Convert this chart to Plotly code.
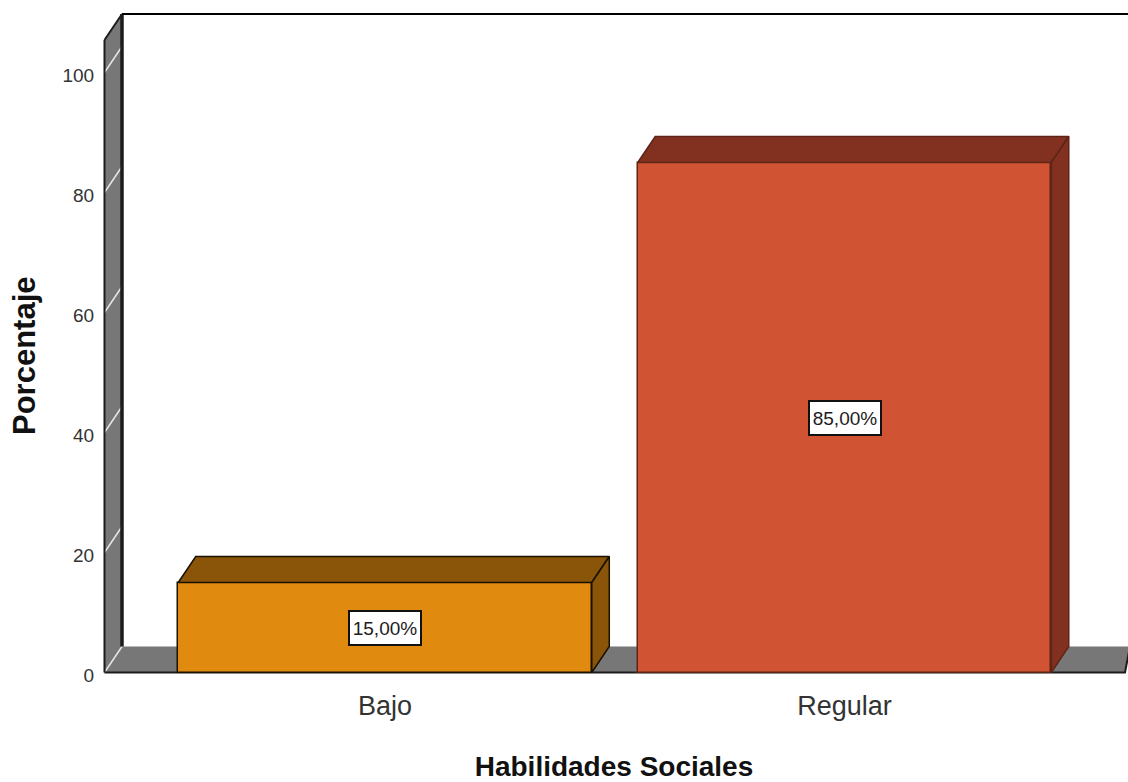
import plotly.graph_objects as go

categories = ["Bajo", "Regular"]
values = [15, 85]
value_labels = ["15,00%", "85,00%"]
y_ticks = [0, 20, 40, 60, 80, 100]
x_title = "Habilidades Sociales"
y_title = "Porcentaje"

front_colors = ["#E08A0F", "#D05433"]
dark_colors = ["#8A5509", "#823020"]
edge_colors = ["#1a1000", "#5e2415"]
wall = "#777777"
ink = "#1c1c1c"
FONT = "Liberation Sans"

W, H = 1128, 782
# pixel geometry of the plot area
L, T, R, B = 100, 10, 1128, 677
ZERO = 672.5
PX_Y = 6.0           # pixels per percent
C0, STEP = 385.0, 459.5   # pixel of first category, pixels per category
DX, DY = 17.5 / STEP, 26 / PX_Y  # 3-D depth in data units
BW = 0.9


def xd(px):
    return (px - C0) / STEP


def yd(px):
    return (ZERO - px) / PX_Y


wall_x0 = xd(104.5)
wall_x1 = wall_x0 + DX
top = yd(14)
x_end = xd(1125)

fig = go.Figure()

# front faces
fig.add_trace(go.Bar(
    x=list(range(len(categories))), y=values, width=BW,
    marker=dict(color=front_colors, line=dict(color=edge_colors, width=1.5)),
    hoverinfo="skip", showlegend=False,
))

# top and side faces, derived from the values
for i, v in enumerate(values):
    xl, xr = i - BW / 2, i + BW / 2
    fig.add_trace(go.Scatter(
        x=[xl, xl + DX, xr + DX, xr, xl], y=[v, v + DY, v + DY, v, v],
        mode="lines", fill="toself", fillcolor=dark_colors[i],
        line=dict(color=edge_colors[i], width=1.5),
        hoverinfo="skip", showlegend=False,
    ))
    fig.add_trace(go.Scatter(
        x=[xr, xr + DX, xr + DX, xr, xr], y=[0, DY, v + DY, v, 0],
        mode="lines", fill="toself", fillcolor=dark_colors[i],
        line=dict(color=edge_colors[i], width=1.5),
        hoverinfo="skip", showlegend=False,
    ))

shapes = []


def poly(xs, ys, fill=None, color=None, width=0):
    path = "M " + " L ".join(f"{a},{b}" for a, b in zip(xs, ys))
    if fill:
        path += " Z"
    shapes.append(dict(type="path", path=path, xref="x", yref="y", layer="below",
                       fillcolor=fill or "rgba(0,0,0,0)",
                       line=dict(color=color or "rgba(0,0,0,0)", width=width)))


# floor and left wall
poly([wall_x0, wall_x1, xd(1130), x_end], [0, DY, DY, 0], fill=wall)
poly([wall_x0, wall_x1, wall_x1, wall_x0], [yd(40), top, DY, 0], fill=wall)
# white gridlines across the wall
for t in y_ticks:
    poly([wall_x0, wall_x1], [t, t + DY], color="#e6e6e6", width=1.5)
# outlines
poly([wall_x0, wall_x0], [yd(40), 0], color=ink, width=2)
poly([wall_x0, x_end, xd(1130)], [0, 0, DY], color=ink, width=2)
poly([wall_x0, wall_x1], [yd(40), top], color=ink, width=2)
poly([wall_x1, wall_x1], [DY, top], color=ink, width=3.5)
poly([wall_x1, xd(1130)], [top, top], color="#000000", width=2)

annotations = [
    dict(x=i, y=v / 2, xref="x", yref="y", text=lab, showarrow=False,
         width=70, height=32, align="center", valign="middle",
         font=dict(family=FONT, size=19, color=ink),
         bgcolor="#ffffff", bordercolor="#111111", borderwidth=2, borderpad=0)
    for i, (v, lab) in enumerate(zip(values, value_labels))
]
annotations.append(dict(
    text=y_title, textangle=-90, showarrow=False,
    xref="paper", yref="paper", xanchor="center", yanchor="middle",
    x=(24 - L) / (R - L), y=(B - 356) / (B - T),
    font=dict(family=FONT, size=31, color="#111111", weight="bold"),
))

fig.update_layout(
    width=W, height=H, autosize=False,
    margin=dict(l=L, r=W - R, t=T, b=H - B, pad=0),
    paper_bgcolor="#ffffff", plot_bgcolor="#ffffff",
    bargap=0, showlegend=False,
    shapes=shapes, annotations=annotations,
    xaxis=dict(
        range=[xd(L), xd(R)], tickmode="array", tickvals=list(range(len(categories))),
        ticktext=categories, showgrid=False, zeroline=False, showline=False,
        ticks="outside", ticklen=5, tickcolor="rgba(0,0,0,0)",
        tickfont=dict(family=FONT, size=27, color="#333333"),
        title=dict(text=x_title, standoff=37,
                   font=dict(family=FONT, size=28, color="#111111", weight="bold")),
    ),
    yaxis=dict(
        range=[yd(B), yd(T)], tickmode="array", tickvals=y_ticks,
        showgrid=False, zeroline=False, showline=False,
        ticks="outside", ticklen=1, tickcolor="rgba(0,0,0,0)", ticklabelshift=3,
        tickfont=dict(family=FONT, size=19, color="#333333"),
    ),
)

fig.write_html("out.html", config={"displayModeBar": False},
               post_script="document.body.style.margin='0';")
